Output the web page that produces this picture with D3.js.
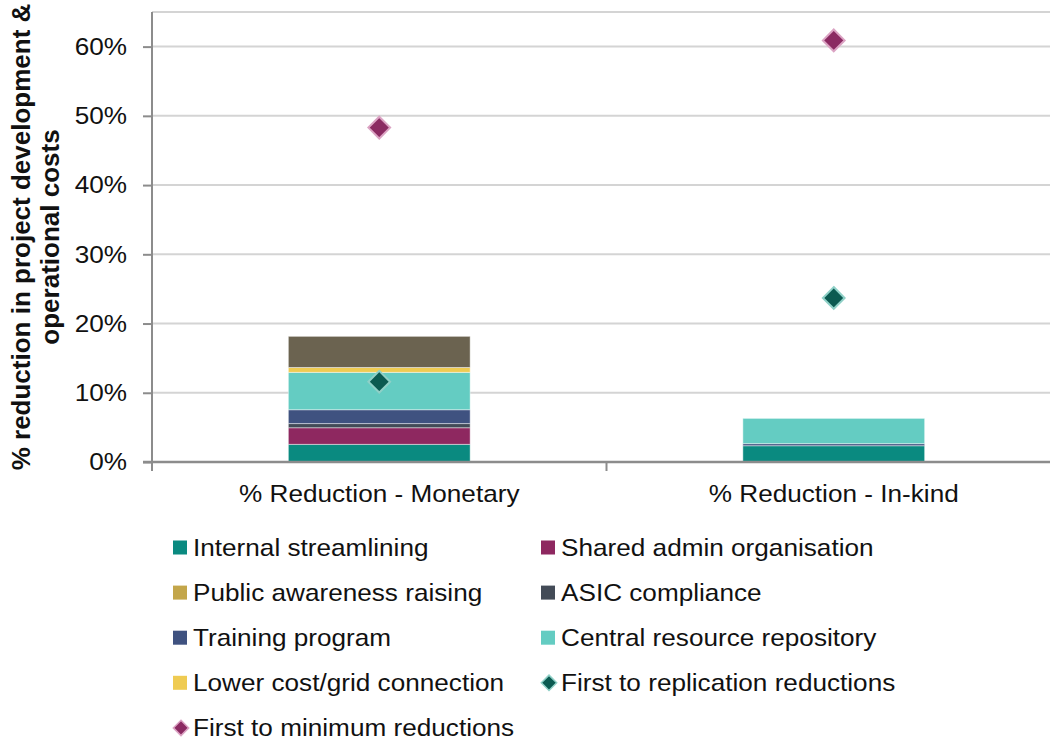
<!DOCTYPE html>
<html>
<head>
<meta charset="utf-8">
<script src="https://cdn.jsdelivr.net/npm/d3@7"></script>
<style>
  html, body { margin: 0; padding: 0; background: #fff; }
  svg { display: block; font-family: "Liberation Sans", Arial, sans-serif; }
</style>
</head>
<body>
<svg id="chart" width="1050" height="740"></svg>
<script>
// Categories on the x axis
const categories = ["% Reduction - Monetary", "% Reduction - In-kind"];

// Stacked cost-reduction components (percent), bottom to top
const seriesNames = [
  "Internal streamlining",
  "Shared admin organisation",
  "Public awareness raising",
  "ASIC compliance",
  "Training program",
  "Central resource repository",
  "Lower cost/grid connection",
  "Other"
];
const internalStreamlining = [2.55, 2.35];
const sharedAdmin          = [2.4, 0];
const publicAwareness      = [0, 0];
const asicCompliance       = [0.6, 0];
const trainingProgram      = [2.0, 0.3];
const centralRepository    = [5.4, 3.65];
const lowerCostGrid        = [0.7, 0];
const otherReductions      = [4.5, 0];

// Scenario markers (percent)
const firstToReplication = [11.6, 23.7];
const firstToMinimum     = [48.3, 60.9];

// Axis ticks
const yTicks = [0, 10, 20, 30, 40, 50, 60];

const seriesColors = ["#0a8a80", "#8e2860", "#c3a64a", "#434b57", "#3f5280", "#64ccc2", "#efcb52", "#6b6350"];
const inLegend = [true, true, true, true, true, true, true, false];

const seriesValues = [internalStreamlining, sharedAdmin, publicAwareness, asicCompliance,
                      trainingProgram, centralRepository, lowerCostGrid, otherReductions];

const rows = categories.map((c, i) => {
  const r = { category: c };
  seriesNames.forEach((s, k) => { r[s] = seriesValues[k][i]; });
  return r;
});

// Text is set slightly wide
const FONT = 24, WIDE = 1.09, INK = "#111";

const svg = d3.select("#chart");
const margin = { left: 152, top: 12, right: -11, bottom: 278 };
const width = 1050 - margin.left - margin.right;
const height = 740 - margin.top - margin.bottom;

const g = svg.append("g").attr("transform", `translate(${margin.left},${margin.top})`);

const x = d3.scaleBand().domain(categories).range([0, width]).padding(0);
const y = d3.scaleLinear().domain([0, 65]).range([height, 0]);

// Gridlines
g.append("g")
  .selectAll("line")
  .data(yTicks.filter(t => t > 0).concat([65]))
  .join("line")
  .attr("x1", 0).attr("x2", width)
  .attr("y1", d => y(d)).attr("y2", d => y(d))
  .attr("stroke", "#d4d4d4").attr("stroke-width", 2);

// Stacked bars
const stack = d3.stack().keys(seriesNames)(rows);
const barW = x.bandwidth() * 0.4;
g.append("g")
  .selectAll("g")
  .data(stack)
  .join("g")
  .attr("fill", (d, i) => seriesColors[i])
  .selectAll("rect")
  .data(d => d.filter(p => p[1] - p[0] > 0))
  .join("rect")
  .attr("x", d => x(d.data.category) + (x.bandwidth() - barW) / 2)
  .attr("width", barW)
  .attr("y", d => y(d[1]))
  .attr("height", d => y(d[0]) - y(d[1]))
  .attr("stroke", "rgba(255,255,255,0.45)")
  .attr("stroke-width", 1);

// Y axis
const yAxis = g.append("g")
  .call(d3.axisLeft(y).tickValues(yTicks).tickFormat(d => d + "%").tickSize(9));
yAxis.select(".domain").attr("stroke", "#8c8c8c").attr("stroke-width", 2)
  .attr("d", `M0,${y(65)}V${height}`);
yAxis.selectAll(".tick line").attr("stroke", "#8c8c8c").attr("stroke-width", 2);
yAxis.selectAll(".tick text")
  .attr("font-size", FONT).attr("fill", INK)
  .attr("font-family", "Liberation Sans, Arial, sans-serif")
  .attr("x", -25 / WIDE)
  .attr("transform", `scale(${WIDE},1)`);

// X axis baseline with ticks at category boundaries
const xAxisG = g.append("g").attr("transform", `translate(0,${height})`);
xAxisG.append("line").attr("x1", -9).attr("x2", width).attr("y1", 0).attr("y2", 0)
  .attr("stroke", "#8c8c8c").attr("stroke-width", 2.5);
xAxisG.selectAll("line.bound")
  .data(categories.map(c => x(c)).concat([width]))
  .join("line").attr("class", "bound")
  .attr("x1", d => d).attr("x2", d => d).attr("y1", 0).attr("y2", 9)
  .attr("stroke", "#8c8c8c").attr("stroke-width", 2);
xAxisG.selectAll("text")
  .data(categories)
  .join("text")
  .attr("transform", d => `translate(${x(d) + x.bandwidth() / 2},40) scale(${WIDE},1)`)
  .attr("text-anchor", "middle")
  .attr("font-size", FONT)
  .attr("fill", INK)
  .text(d => d);

// Diamond markers
const diamond = d3.symbol().type(d3.symbolDiamond2).size(300);
function drawMarkers(values, fill, stroke) {
  g.append("g")
    .selectAll("path")
    .data(values)
    .join("path")
    .attr("transform", (d, i) => `translate(${x(categories[i]) + x.bandwidth() / 2},${y(d)})`)
    .attr("d", diamond)
    .attr("fill", fill)
    .attr("stroke", stroke)
    .attr("stroke-width", 2);
}
drawMarkers(firstToReplication, "#0b5a51", "#8fd0c7");
drawMarkers(firstToMinimum, "#8b2a62", "#dba3c3");

// Y axis title
const title = svg.append("text")
  .attr("transform", `translate(0,${margin.top + height / 2}) rotate(-90)`)
  .attr("text-anchor", "middle")
  .attr("font-size", 26)
  .attr("font-weight", "bold")
  .attr("fill", INK);
title.append("tspan").attr("x", 0).attr("y", 30).text("% reduction in project development &");
title.append("tspan").attr("x", 0).attr("y", 59).text("operational costs");

// Legend
const legendItems = seriesNames.map((s, i) => ({ name: s, color: seriesColors[i], type: "square", show: inLegend[i] }))
  .filter(d => d.show)
  .concat([
    { name: "First to replication reductions", color: "#0b5a51", stroke: "#8fd0c7", type: "diamond" },
    { name: "First to minimum reductions", color: "#8b2a62", stroke: "#dba3c3", type: "diamond" }
  ]);
const legend = svg.append("g");
const colX = [173, 541];
const rowY0 = 547.5, rowStep = 45.1;
const li = legend.selectAll("g")
  .data(legendItems)
  .join("g")
  .attr("transform", (d, i) => `translate(${colX[i % 2]},${rowY0 + Math.floor(i / 2) * rowStep})`);
li.filter(d => d.type === "square").append("rect")
  .attr("x", 0).attr("y", -7).attr("width", 14).attr("height", 14)
  .attr("fill", d => d.color);
li.filter(d => d.type === "diamond").append("path")
  .attr("transform", "translate(8,0)")
  .attr("d", d3.symbol().type(d3.symbolDiamond2).size(150))
  .attr("fill", d => d.color)
  .attr("stroke", d => d.stroke)
  .attr("stroke-width", 1.5);
li.append("text")
  .attr("transform", `translate(20,8) scale(${WIDE},1)`)
  .attr("font-size", FONT)
  .attr("fill", INK)
  .text(d => d.name);
</script>
</body>
</html>
